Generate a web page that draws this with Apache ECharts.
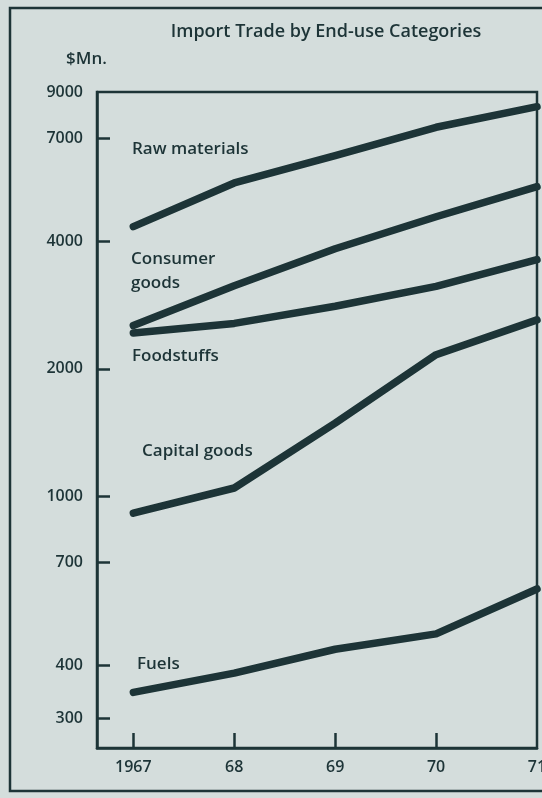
<!DOCTYPE html>
<html>
<head>
<meta charset="utf-8">
<script src="https://cdn.jsdelivr.net/npm/echarts@6/dist/echarts.min.js"></script>
<style>
  html, body { margin: 0; padding: 0; background: #d4dddc; }
  #chart { width: 542px; height: 798px; }
</style>
</head>
<body>
<div id="chart"></div>
<script>
  // years on the x axis
  var years = [1967, 1968, 1969, 1970, 1971];
  // $Mn.
  var rawMaterials = [4330, 5490, 6370, 7430, 8310];
  var consumerGoods = [2530, 3140, 3840, 4570, 5380];
  var foodstuffs = [2430, 2560, 2810, 3130, 3620];
  var capitalGoods = [913, 1047, 1490, 2160, 2610];
  var fuels = [345, 383, 436, 474, 605];
  var yTickLabels = [300, 400, 700, 1000, 2000, 4000, 7000, 9000];

  var ink = "#1d3437";
  var font = "'Open Sans'";

  function pairs(vals) {
    return years.map(function (y, i) { return [y, vals[i]]; });
  }
  function line(name, vals) {
    return {
      name: name,
      type: "line",
      data: pairs(vals),
      showSymbol: false,
      lineStyle: { color: ink, width: 7.5, cap: "round", join: "round" },
      silent: true
    };
  }
  function txt(str, x, y) {
    return {
      type: "text",
      style: { text: str, x: x, y: y, verticalAlign: "middle", fill: ink,
               font: "600 17px " + font }
    };
  }

  var chart = echarts.init(document.getElementById("chart"));
  chart.setOption({
    backgroundColor: "#d4dddc",
    animation: false,
    title: {
      text: "Import Trade by End-use Categories",
      left: 321, top: 18, textAlign: "center",
      textStyle: { color: ink, fontFamily: font, fontSize: 18, fontWeight: 600 }
    },
    grid: {
      left: 97, top: 92, right: 5, bottom: 50,
      outerBoundsMode: "none",
      show: true, borderColor: ink, borderWidth: 2.5, backgroundColor: "transparent"
    },
    xAxis: {
      type: "value",
      min: 1966.64, max: 1971,
      splitLine: { show: false },
      axisLine: { lineStyle: { color: ink, width: 2.5 } },
      axisTick: { inside: true, length: 15, lineStyle: { color: ink, width: 2.5 },
                  customValues: [1967, 1968, 1969, 1970] },
      axisLabel: {
        customValues: years, margin: 11,
        color: ink, fontFamily: font, fontSize: 16, fontWeight: 600,
        formatter: function (v) { return v === 1967 ? "1967" : String(v).slice(2); }
      }
    },
    yAxis: {
      type: "log", logBase: 10,
      min: 255, max: 9000,
      splitLine: { show: false },
      axisLine: { show: true, lineStyle: { color: ink, width: 2.5 } },
      axisTick: { inside: true, length: 13, lineStyle: { color: ink, width: 2.5 },
                  customValues: [300, 400, 700, 1000, 2000, 4000, 7000] },
      axisLabel: {
        customValues: yTickLabels, margin: 14,
        color: ink, fontFamily: font, fontSize: 16, fontWeight: 600,
        formatter: function (v) { return String(Math.round(v)); }
      }
    },
    graphic: [
      { type: "rect", shape: { x: 10, y: 8, width: 600, height: 783 },
        style: { fill: "none", stroke: ink, lineWidth: 2.5 } },
      txt("$Mn.", 66, 59),
      txt("Raw materials", 132, 149),
      txt("Consumer", 131, 259),
      txt("goods", 131, 283),
      txt("Foodstuffs", 132, 356),
      txt("Capital goods", 142, 451),
      txt("Fuels", 137, 664)
    ],
    series: [
      line("Raw materials", rawMaterials),
      line("Consumer goods", consumerGoods),
      line("Foodstuffs", foodstuffs),
      line("Capital goods", capitalGoods),
      line("Fuels", fuels)
    ]
  });
</script>
</body>
</html>
